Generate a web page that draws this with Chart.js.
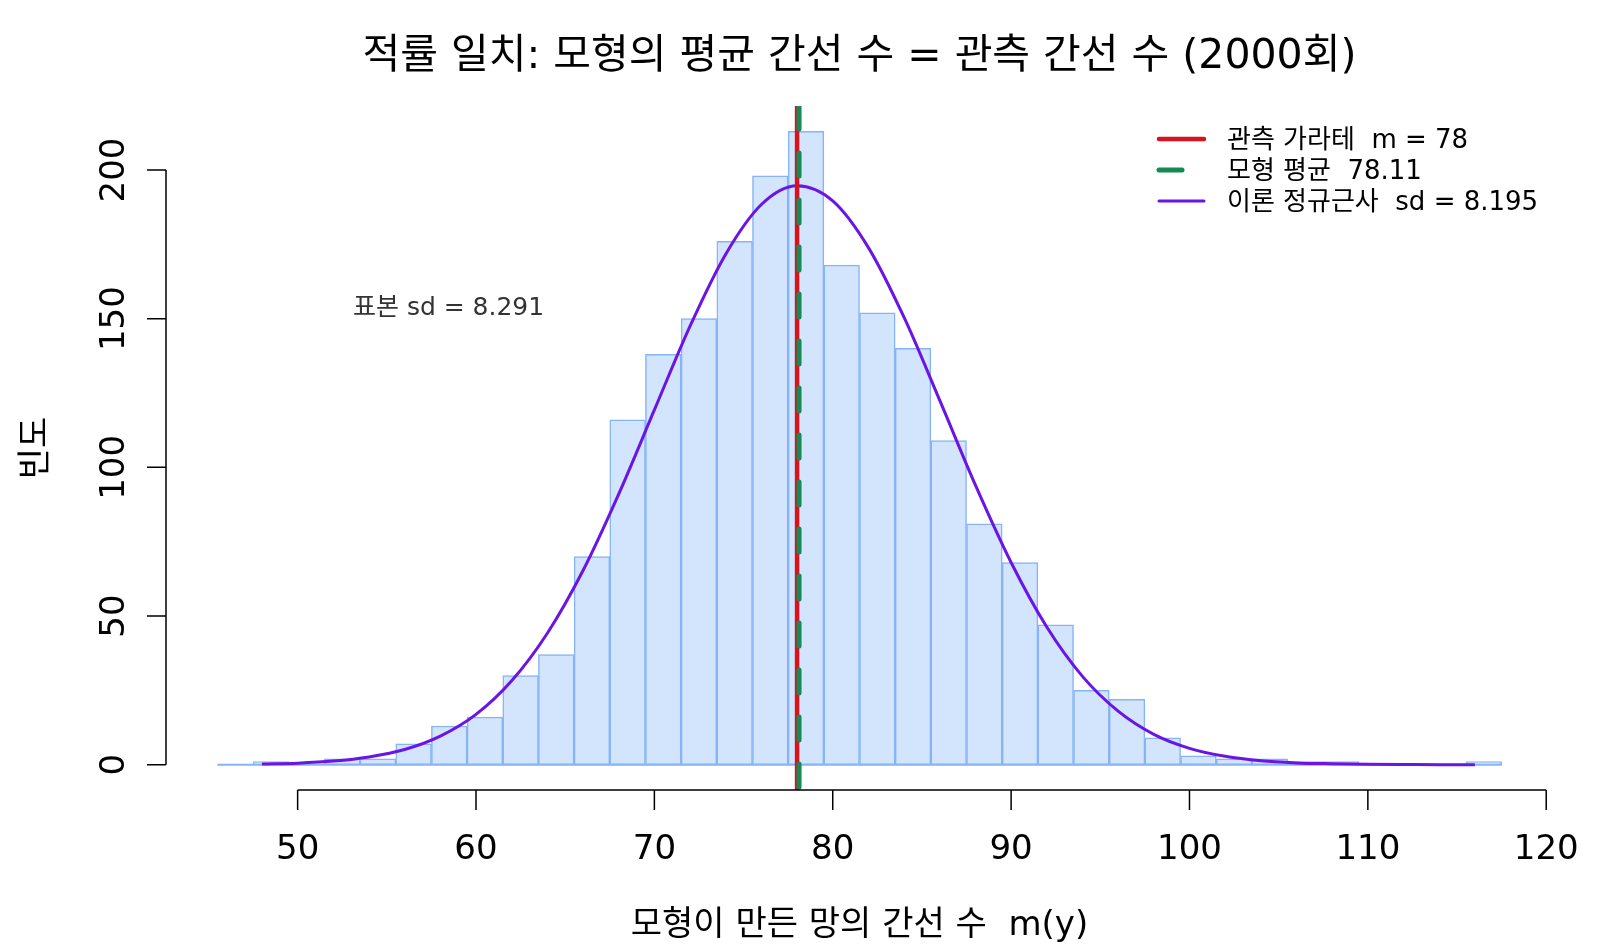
<!DOCTYPE html>
<html>
<head>
<meta charset="utf-8">
<script src="https://cdn.jsdelivr.net/npm/chart.js@4"></script>
<style>
  body { margin: 0; background: #fff; }
  canvas { display: block; }
</style>
</head>
<body>
<canvas id="c" width="1600" height="950"></canvas>
<script>
// histogram of m(y) from 2000 simulated networks, bins of width 2 (edges at x.5)
const binMids = [46.5, 48.5, 50.5, 52.5, 54.5, 56.5, 58.5, 60.5, 62.5, 64.5, 66.5, 68.5,
  70.5, 72.5, 74.5, 76.5, 78.5, 80.5, 82.5, 84.5, 86.5, 88.5, 90.5, 92.5, 94.5, 96.5,
  98.5, 100.5, 102.5, 104.5, 106.5, 108.5, 110.5, 112.5, 114.5, 116.5]
const counts = [0, 1, 0, 2, 2, 7, 13, 16, 30, 37, 70, 116, 138, 150, 176, 198, 213, 168,
  152, 140, 109, 81, 68, 47, 25, 22, 9, 3, 2, 2, 1, 1, 0, 0, 0, 1]
const binWidth = 2

// normal approximation curve
const curveX = [48, 50, 52, 54, 56, 58, 60, 62, 64, 66, 68, 70, 72, 74, 76, 78, 80, 82,
  84, 86, 88, 90, 92, 94, 96, 98, 100, 102, 104, 106, 108, 110, 112, 114, 116]
const curveY = [0.2, 0.5, 1.2, 2.6, 5.1, 9.6, 16.9, 28.2, 44.2, 65.3, 91.0, 119.3, 147.5,
  171.7, 188.4, 194.7, 189.6, 173.9, 150.4, 122.5, 94.0, 68.0, 46.3, 29.7, 18.0, 10.2,
  5.5, 2.8, 1.3, 0.6, 0.3, 0.1, 0.04, 0.01, 0.0]

const observedM = 78
const modelMean = 78.11
const sampleSd = 8.291
const theorySd = 8.195

const xTicks = [50, 60, 70, 80, 90, 100, 110, 120]
const yTicks = [0, 50, 100, 150, 200]

const titleText = '적률 일치: 모형의 평균 간선 수 = 관측 간선 수 (2000회)'
const xTitle = '모형이 만든 망의 간선 수  m(y)'
const yTitle = '빈도'
const legendLabels = ['관측 가라테  m = ' + observedM, '모형 평균  ' + modelMean,
  '이론 정규근사  sd = ' + theorySd]
const noteText = '표본 sd = ' + sampleSd

// R-like axis ranges (4% extension)
const xLo = binMids[0] - binWidth / 2
const xHi = binMids[binMids.length - 1] + binWidth / 2
const xPad = (xHi - xLo) * 0.04
const yTop = Math.max(...counts)
const yMin = -0.04 * yTop
const yMax = 1.04 * yTop

const FONT = '"DejaVu Sans", "Noto Sans CJK KR", sans-serif'
const RED = '#d7141e'
const GREEN = '#168a55'
const PURPLE = '#6a14e6'
const BAR_FILL = '#d3e4fd'
const BAR_EDGE = '#86b4f6'

const rStyle = {
  id: 'rStyle',
  beforeDatasetsDraw(chart) {
    const { ctx, scales: { x, y } } = chart
    ctx.save()
    ctx.strokeStyle = BAR_EDGE
    ctx.lineWidth = 2
    ctx.beginPath()
    ctx.moveTo(x.getPixelForValue(xLo), y.getPixelForValue(0))
    ctx.lineTo(x.getPixelForValue(xHi), y.getPixelForValue(0))
    ctx.stroke()
    ctx.restore()
  },
  afterDatasetsDraw(chart) {
    const { ctx, chartArea: area, scales: { x, y } } = chart
    ctx.save()
    ctx.strokeStyle = '#000'
    ctx.fillStyle = '#000'
    ctx.lineWidth = 1.5

    // x axis
    const xb = area.bottom
    ctx.beginPath()
    ctx.moveTo(x.getPixelForValue(xTicks[0]), xb)
    ctx.lineTo(x.getPixelForValue(xTicks[xTicks.length - 1]), xb)
    xTicks.forEach(v => {
      const px = x.getPixelForValue(v)
      ctx.moveTo(px, xb)
      ctx.lineTo(px, xb + 20)
    })
    ctx.stroke()
    ctx.font = '34px ' + FONT
    ctx.textAlign = 'center'
    ctx.textBaseline = 'middle'
    xTicks.forEach(v => ctx.fillText(String(v), x.getPixelForValue(v), xb + 60))

    // y axis
    const yl = area.left
    ctx.beginPath()
    ctx.moveTo(yl, y.getPixelForValue(yTicks[0]))
    ctx.lineTo(yl, y.getPixelForValue(yTicks[yTicks.length - 1]))
    yTicks.forEach(v => {
      const py = y.getPixelForValue(v)
      ctx.moveTo(yl, py)
      ctx.lineTo(yl - 19, py)
    })
    ctx.stroke()
    yTicks.forEach(v => {
      ctx.save()
      ctx.translate(yl - 51, y.getPixelForValue(v))
      ctx.rotate(-Math.PI / 2)
      ctx.fillText(String(v), 0, 0)
      ctx.restore()
    })

    // titles
    const cx = (area.left + area.right) / 2
    ctx.font = '41px ' + FONT
    ctx.fillText(titleText, cx, 57)
    ctx.font = '34px ' + FONT
    ctx.fillText(xTitle, cx, 926)
    ctx.save()
    ctx.translate(37, (area.top + area.bottom) / 2)
    ctx.rotate(-Math.PI / 2)
    ctx.fillText(yTitle, 0, 0)
    ctx.restore()

    // annotation
    ctx.font = '25px ' + FONT
    ctx.fillStyle = '#333333'
    ctx.textAlign = 'left'
    ctx.fillText(noteText, x.getPixelForValue(53.1), y.getPixelForValue(153.3))

    // legend
    const ds = chart.data.datasets
    const order = [2, 3, 1]
    ctx.font = '26px ' + FONT
    ctx.fillStyle = '#000'
    order.forEach((di, i) => {
      const d = ds[di]
      const ly = 139 + i * 31
      ctx.save()
      ctx.strokeStyle = d.borderColor
      ctx.lineWidth = d.borderWidth
      ctx.lineCap = 'round'
      ctx.setLineDash(d.borderDash || [])
      ctx.beginPath()
      ctx.moveTo(1159, ly)
      ctx.lineTo(1204, ly)
      ctx.stroke()
      ctx.restore()
      ctx.fillText(legendLabels[i], 1227, ly + 2)
    })
    ctx.restore()
  }
}

new Chart(document.getElementById('c'), {
  type: 'bar',
  data: {
    datasets: [
      {
        type: 'bar',
        label: 'hist',
        data: binMids.map((m, i) => ({ x: m, y: counts[i] })),
        backgroundColor: BAR_FILL,
        borderColor: BAR_EDGE,
        borderWidth: 1.5,
        borderSkipped: false,
        barPercentage: 1,
        categoryPercentage: 1,
        order: 4,
      },
      {
        type: 'line',
        label: legendLabels[2],
        data: curveX.map((v, i) => ({ x: v, y: curveY[i] })),
        borderColor: PURPLE,
        borderWidth: 3,
        pointRadius: 0,
        cubicInterpolationMode: 'monotone',
        fill: false,
        order: 3,
      },
      {
        type: 'line',
        label: legendLabels[0],
        data: [{ x: observedM, y: yMin }, { x: observedM, y: yMax }],
        borderColor: RED,
        borderWidth: 4.5,
        pointRadius: 0,
        fill: false,
        order: 2,
      },
      {
        type: 'line',
        label: legendLabels[1],
        data: [{ x: modelMean, y: yMax }, { x: modelMean, y: yMin }],
        borderColor: GREEN,
        borderWidth: 5,
        borderDash: [23, 24],
        borderCapStyle: 'round',
        pointRadius: 0,
        fill: false,
        order: 1,
      },
    ],
  },
  options: {
    responsive: false,
    devicePixelRatio: 1,
    animation: false,
    layout: { padding: { left: 166, right: 47, top: 106, bottom: 160 } },
    plugins: { legend: { display: false }, tooltip: { enabled: false }, title: { display: false } },
    scales: {
      x: { type: 'linear', min: xLo - xPad, max: xHi + xPad, offset: false, display: false },
      y: { type: 'linear', min: yMin, max: yMax, display: false },
    },
  },
  plugins: [rStyle],
})
</script>
</body>
</html>
